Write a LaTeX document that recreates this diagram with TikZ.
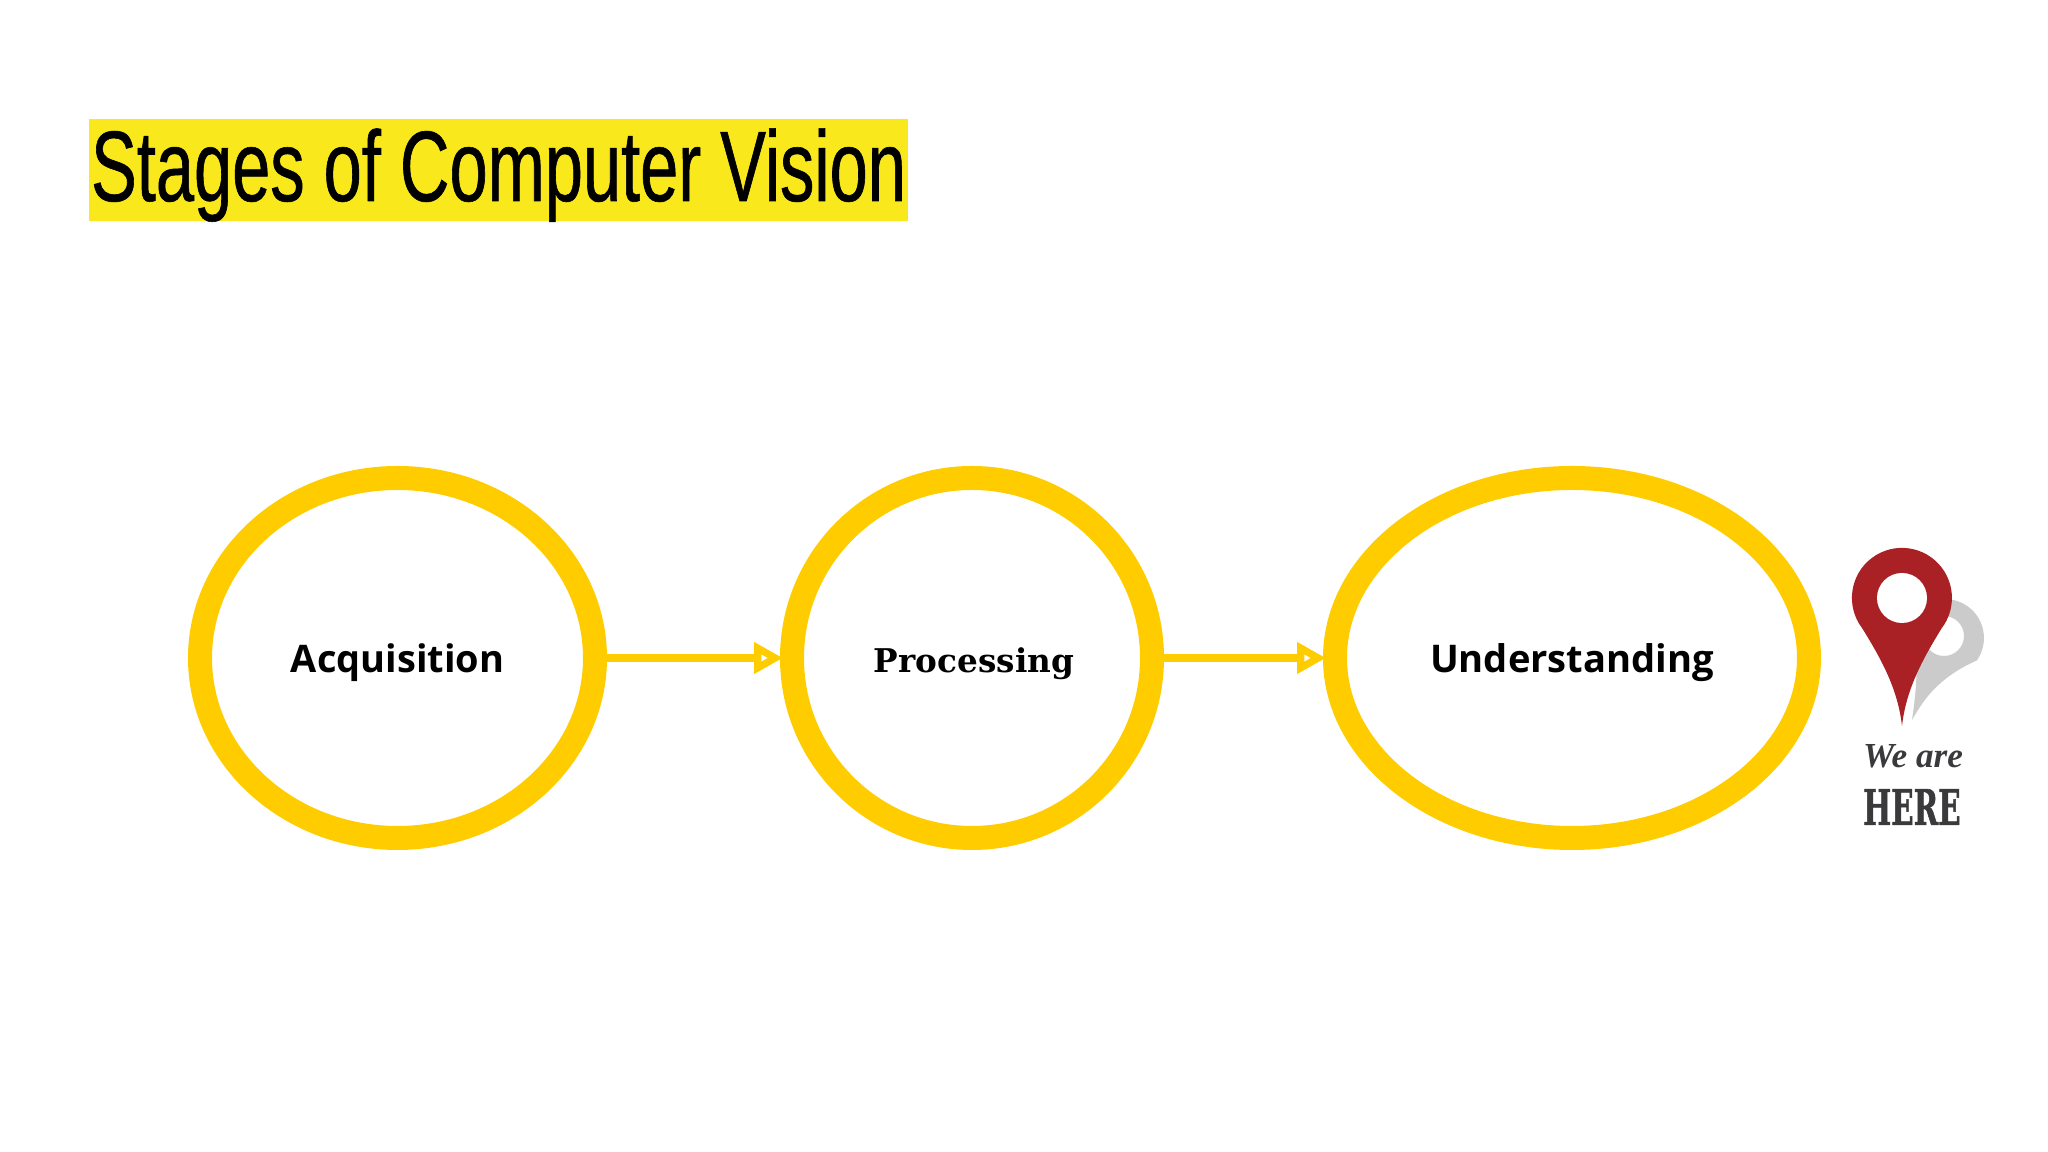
\documentclass[tikz,border=0pt]{standalone}
\usepackage{fontspec}
\usetikzlibrary{arrows.meta,shapes.geometric}
\setmainfont{Liberation Sans}
\newfontfamily\titlefont[FakeStretch=0.685,FakeBold=0.6]{Liberation Sans}
\newfontfamily\stagefont{Open Sans}
\newfontfamily\procfont{DejaVu Serif}
\newfontfamily\arefont{Liberation Serif}
\newfontfamily\herefont[FakeStretch=0.6,FakeBold=1]{DejaVu Serif}
\definecolor{stageyellow}{HTML}{FFCC00}
\definecolor{titleyellow}{HTML}{F9E81C}
\definecolor{pinred}{HTML}{A92025}
\definecolor{pinshadow}{HTML}{CBCBCB}
\definecolor{hereink}{HTML}{3A3A3C}
\tikzset{
  stage/.style={draw=stageyellow,line width=2.4mm,ellipse,inner sep=0pt,minimum height=3.6cm,text height=8.2pt,text depth=0pt},
  flow/.style={draw=stageyellow,line width=0.85mm,shorten >=-0.3mm,-{Triangle[open,length=2.9mm,width=3mm,line width=1mm]}},
}
\begin{document}
\begin{tikzpicture}
   \useasboundingbox (0,0) rectangle (20.48,11.52);
   \node[fill=titleyellow,inner sep=0pt,minimum width=8.19cm,minimum height=1.02cm,text height=0.8cm,text depth=0.18cm] (title) at (4.985,9.82)
      {\titlefont\fontsize{28.5}{30}\selectfont Stages of Computer Vision};
   \node[stage,minimum width=3.95cm] (acquisition) at (3.975,4.94)
      {\stagefont\bfseries\fontsize{10.8}{12}\selectfont Acquisition};
   \node[stage,minimum width=3.6cm] (processing) at (9.72,4.94)
      {\procfont\bfseries\fontsize{9.3}{12}\selectfont\hspace{0.4mm}Processing};
   \node[stage,minimum width=4.74cm] (understanding) at (15.72,4.94)
      {\stagefont\bfseries\fontsize{10.85}{12}\selectfont Understanding};
   \draw[flow] (acquisition) -- (processing);
   \draw[flow] (processing) -- (understanding);
   % shadow of the pin
   \fill[pinshadow,even odd rule] (19.12,4.32) .. controls (19.25,4.55) and (19.4,4.75) .. (19.769,4.916)
      arc[start angle=-35,end angle=150,radius=0.39] .. controls (19.2,4.9) and (19.16,4.6) .. cycle
      (19.44,5.16) circle(0.2);
   % the pin
   \fill[pinred] (19.02,4.26) .. controls (18.98,4.62) and (18.82,4.92) .. (18.62,5.24)
      arc[start angle=217,end angle=-37,radius=0.50] .. controls (19.22,4.92) and (19.06,4.62) .. cycle;
   \fill[white] (19.02,5.54) circle(0.25);
   \node[inner sep=0pt,text=hereink] (weare) at (19.13,3.96)
      {\arefont\bfseries\itshape\fontsize{10}{12}\selectfont We are};
   \node[inner sep=0pt,text=hereink] (here) at (19.12,3.45)
      {\herefont\bfseries\fontsize{14}{15}\selectfont HERE};
\end{tikzpicture}
\end{document}
